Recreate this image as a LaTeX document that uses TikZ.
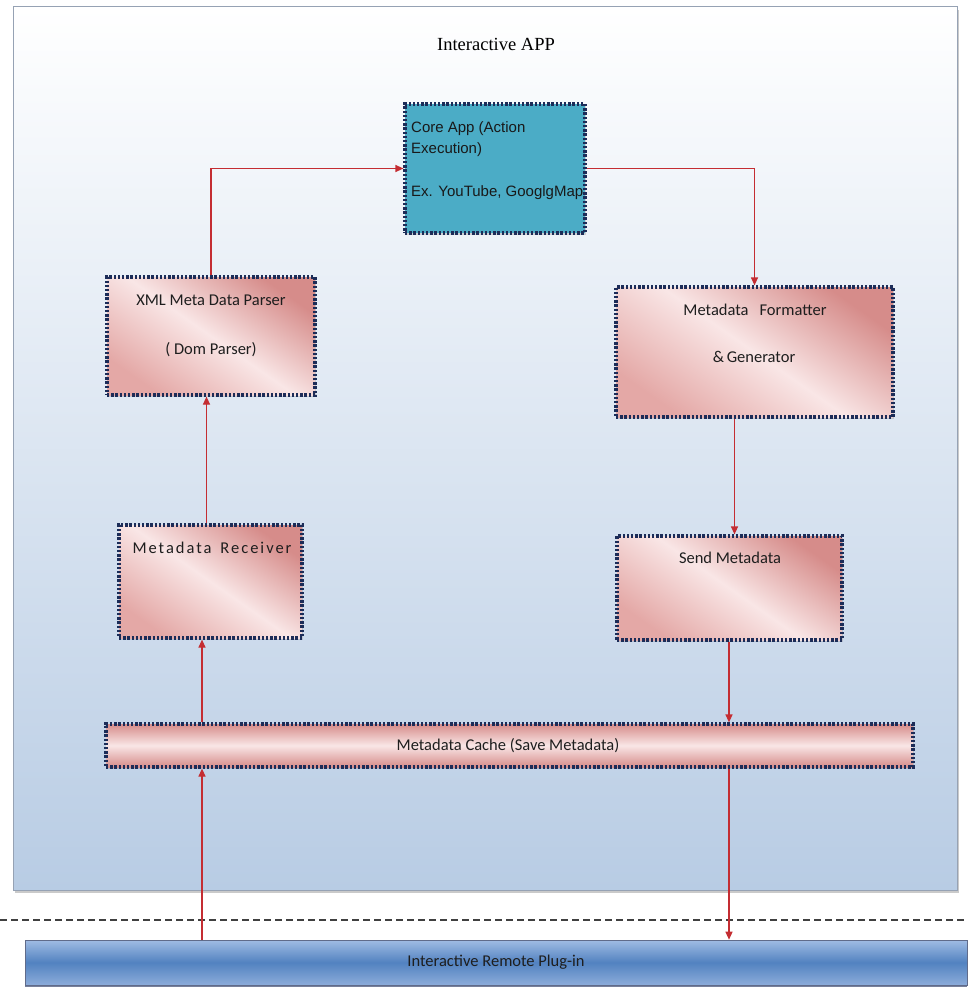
\documentclass[tikz,border=0pt]{standalone}
\usepackage{fontspec}
\setmainfont{Carlito}
\newfontfamily\titlefont{Liberation Serif}
\newfontfamily\corefont{Liberation Sans}
\usetikzlibrary{arrows.meta,shadows,calc}

\definecolor{navy}{RGB}{28,44,88}
\definecolor{pinkdark}{RGB}{214,140,138}
\definecolor{pinklight}{RGB}{249,230,230}
\definecolor{pinkmid}{RGB}{228,168,166}
\definecolor{tealbox}{RGB}{75,172,198}
\definecolor{linered}{RGB}{196,45,50}
\definecolor{appblue}{RGB}{184,204,228}
\definecolor{appedge}{RGB}{150,162,180}
\definecolor{plugtop}{RGB}{160,188,228}
\definecolor{plugmid}{RGB}{82,130,192}
\definecolor{plugbot}{RGB}{140,172,218}
\definecolor{txt}{RGB}{30,30,30}

\tikzset{
  appbox/.style={draw=appedge, line width=1pt, top color=white, bottom color=appblue,
    drop shadow={shadow xshift=2pt, shadow yshift=-3pt, opacity=0.35, fill=black!60}},
  dotborder/.style={draw=navy, line width=3.2pt, dash pattern=on 2.4pt off 1.8pt},
  pinkbox/.style={dotborder,
    top color=pinkdark, bottom color=pinkmid, middle color=pinklight, shading angle=-35,
    drop shadow={shadow xshift=1pt, shadow yshift=-1.5pt, opacity=0.3}},
  cachebox/.style={dotborder,
    top color=pinkdark, bottom color=pinkdark, middle color=pinklight,
    drop shadow={shadow xshift=1pt, shadow yshift=-1.5pt, opacity=0.3}},
  corebox/.style={dotborder, fill=tealbox,
    drop shadow={shadow xshift=1pt, shadow yshift=-1.5pt, opacity=0.3}},
  plugbox/.style={draw=navy!70, line width=0.6pt, top color=plugtop, bottom color=plugbot,
    middle color=plugmid, text=txt, font=\fontsize{16.5}{19}\selectfont,
    drop shadow={shadow xshift=0pt, shadow yshift=-2pt, opacity=0.6, fill=navy}},
  btext/.style={text=txt, font=\fontsize{16.5}{19}\selectfont, inner sep=0pt},
  coretext/.style={text=black!90, font=\corefont\fontsize{15}{21.5}\selectfont, align=left, inner sep=0pt},
  conn/.style={draw=linered, line width=1.2pt, -{Triangle[length=8pt,width=7pt]}},
  sepline/.style={draw=black!75, line width=1.3pt, dash pattern=on 7pt off 4pt},
}

\begin{document}
\begin{tikzpicture}[x=1pt,y=-1pt]
\useasboundingbox (0,0) rectangle (968,987);

% container
\node[appbox, minimum width=944pt, minimum height=883pt] (app) at (485,448.5) {};
\node[text=black, font=\titlefont\fontsize{18.5}{22}\selectfont] (title) at (496,44) {Interactive APP};

% boxes
\node[corebox, minimum width=180pt, minimum height=129pt] (core) at (495,168.5) {};
\node[coretext, anchor=north west] (coreT) at (411,121) {Core App (Action\\Execution)\\[21.5pt]Ex. YouTube, GooglgMap};

\node[pinkbox, minimum width=208pt, minimum height=118pt] (xml) at (211,336) {};
\node[btext] (xmlA) at (211,300) {XML Meta Data Parser};
\node[btext] (xmlB) at (211,350) {( Dom Parser)};

\node[pinkbox, minimum width=277pt, minimum height=130pt] (fmt) at (754.5,352) {};
\node[btext] (fmtA) at (755,310) {Metadata\hspace{11pt}Formatter};
\node[btext] (fmtB) at (754,357) {\&\,Generator};

\node[pinkbox, minimum width=183pt, minimum height=113pt] (rec) at (210.5,581.5) {};
\node[btext] (recA) at (212,548) {\addfontfeature{LetterSpace=12}Metadata\hspace{9pt}Receiver};

\node[pinkbox, minimum width=225pt, minimum height=104pt] (send) at (729.5,588) {};
\node[btext] (sendA) at (730,558) {Send Metadata};

\node[cachebox, minimum width=807pt, minimum height=43pt] (cache) at (509.5,745.5) {};
\node[btext] (cacheA) at (508,746) {Metadata Cache (Save Metadata)};

% separator and plug-in bar
\coordinate (dl) at (0,920);
\coordinate (dr) at (968,920);
\draw[sepline] (dl) -- (dr);
\node[plugbox, minimum width=942pt, minimum height=45pt] (plug) at (496,962.5) {Interactive Remote Plug-in};

% connectors
\coordinate (lx) at (202,0);
\coordinate (rx) at (729,0);
\draw[conn] (xml.north) |- (core.west);
\draw[conn] (core.east) -| (fmt.north);
\draw[conn] ([xshift=-20pt]fmt.south) -- ([xshift=-20pt]fmt.south |- send.north);
\draw[conn] (send.south -| rx) -- (cache.north -| rx);
\draw[conn] (cache.south -| rx) -- (plug.north -| rx);
\draw[conn] (plug.north -| lx) -- (cache.south -| lx);
\draw[conn] (cache.north -| lx) -- (rec.south -| lx);
\draw[conn] ([xshift=-4pt]rec.north) -- ([xshift=-4pt]rec.north |- xml.south);
\end{tikzpicture}
\end{document}
